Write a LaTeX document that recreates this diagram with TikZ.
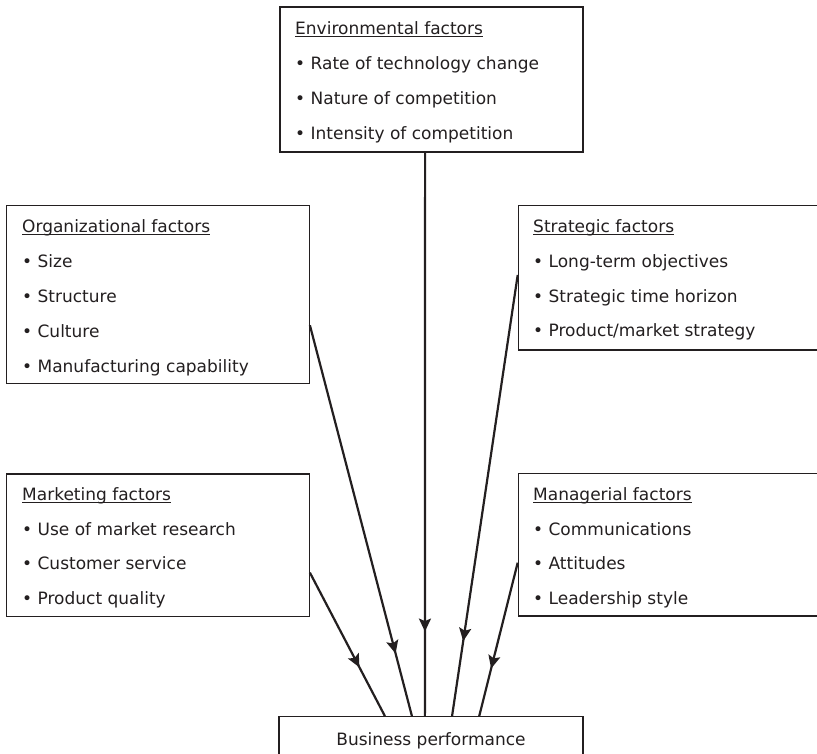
\documentclass[tikz,border=0pt]{standalone}
\usepackage{fontspec}
\setmainfont{DejaVu Sans}
\usetikzlibrary{arrows.meta,decorations.markings,calc}

\newlength{\du}
\setlength{\du}{1pt}
\definecolor{dialinecolor}{rgb}{0.137255, 0.121569, 0.125490}
\newcommand{\ultitle}[1]{\setbox0\hbox{#1}\rlap{\rule[-2.2pt]{\wd0}{0.9pt}}\box0}

\tikzset{
  factorbox/.style={rectangle, draw=dialinecolor, line width=1.2\du, fill=white, inner sep=0pt},
  factortext/.style={anchor=base west, inner sep=0pt, text=dialinecolor, font=\fontsize{17}{20}\selectfont},
  influence/.style={draw=dialinecolor, line width=2.2\du, postaction={decorate},
    decoration={markings, mark=at position #1 with {\arrow{Stealth[length=13pt,width=12pt,inset=2.5pt]}}}},
}

\begin{document}
\begin{tikzpicture}
\pgftransformxscale{1.000000}
\pgftransformyscale{-1.000000}
\clip (0\du,0\du) rectangle (817\du,754\du);
% boxes
\node[factorbox, minimum width=303\du, minimum height=145\du] (env) at (431.5\du,79.5\du) {};
\node[factorbox, minimum width=302.6\du, minimum height=177.6\du] (org) at (158\du,294.5\du) {};
\node[factorbox, minimum width=311\du, minimum height=144.3\du] (strat) at (673.8\du,277.9\du) {};
\node[factorbox, minimum width=302.6\du, minimum height=142.7\du] (mkt) at (158\du,545.3\du) {};
\node[factorbox, minimum width=311\du, minimum height=142.7\du] (mgr) at (673.8\du,544.7\du) {};
\node[factorbox, minimum width=304\du, minimum height=60\du] (bp) at (431\du,746.7\du) {};
% setfont left to latex
\node[factortext] (env-t) at (295\du,35\du) {\ultitle{Environmental factors}};
\node[factortext] (env-1) at (295\du,70\du) {• Rate of technology change};
\node[factortext] (env-2) at (295\du,104.7\du) {• Nature of competition};
\node[factortext] (env-3) at (295\du,139.4\du) {• Intensity of competition};
% setfont left to latex
\node[factortext] (org-t) at (22\du,232.7\du) {\ultitle{Organizational factors}};
\node[factortext] (org-1) at (22\du,267.5\du) {• Size};
\node[factortext] (org-2) at (22\du,302.5\du) {• Structure};
\node[factortext] (org-3) at (22\du,337.5\du) {• Culture};
\node[factortext] (org-4) at (22\du,372.5\du) {• Manufacturing capability};
% setfont left to latex
\node[factortext] (strat-t) at (533\du,232.5\du) {\ultitle{Strategic factors}};
\node[factortext] (strat-1) at (533\du,267.5\du) {• Long-term objectives};
\node[factortext] (strat-2) at (533\du,302\du) {• Strategic time horizon};
\node[factortext] (strat-3) at (533\du,336.7\du) {• Product/market strategy};
% setfont left to latex
\node[factortext] (mkt-t) at (22\du,500.7\du) {\ultitle{Marketing factors}};
\node[factortext] (mkt-1) at (22\du,535\du) {• Use of market research};
\node[factortext] (mkt-2) at (22\du,569.5\du) {• Customer service};
\node[factortext] (mkt-3) at (22\du,604\du) {• Product quality};
% setfont left to latex
\node[factortext] (mgr-t) at (533\du,500.7\du) {\ultitle{Managerial factors}};
\node[factortext] (mgr-1) at (533\du,535\du) {• Communications};
\node[factortext] (mgr-2) at (533\du,569.5\du) {• Attitudes};
\node[factortext] (mgr-3) at (533\du,604\du) {• Leadership style};
% setfont left to latex
\node[factortext, anchor=base] (bp-t) at (431\du,745\du) {Business performance};
% connectors
\draw[influence=0.66] ($(mkt.north east)!0.69!(mkt.south east)$) -- ($(bp.north west)!0.349!(bp.north east)$);
\draw[influence=0.84] ($(org.north east)!0.672!(org.south east)$) -- ($(bp.north west)!0.4375!(bp.north east)$);
\draw[influence=0.85] ($(env.south west)!0.479!(env.south east)$) -- ($(bp.north west)!0.48!(bp.north east)$);
\draw[influence=0.83] ($(strat.north west)!0.48!(strat.south west)$) -- ($(bp.north west)!0.569!(bp.north east)$);
\draw[influence=0.69] ($(mgr.north west)!0.625!(mgr.south west)$) -- ($(bp.north west)!0.658!(bp.north east)$);
\end{tikzpicture}
\end{document}
